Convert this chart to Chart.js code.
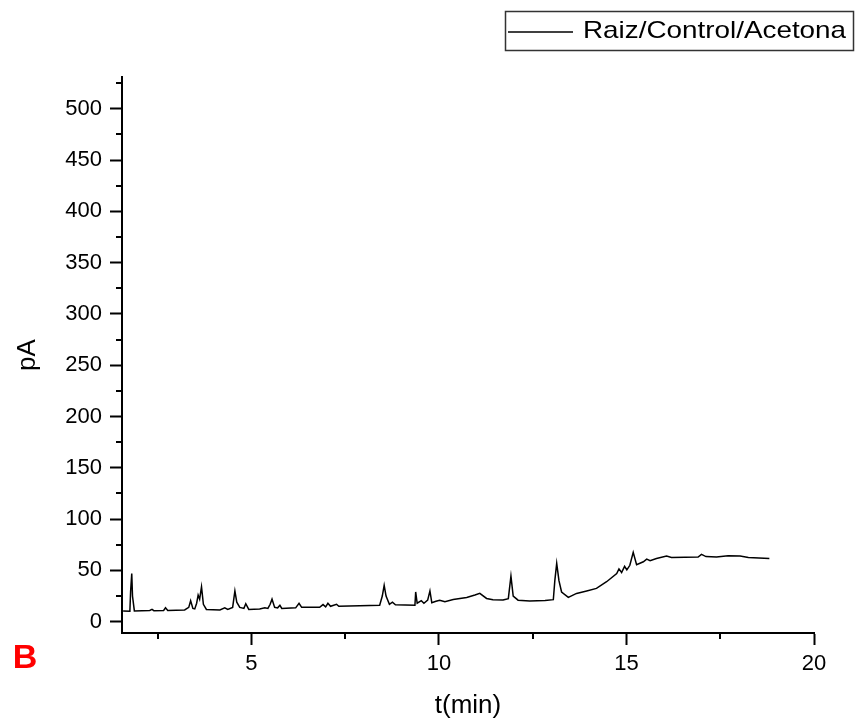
<!DOCTYPE html>
<html>
<head>
<meta charset="utf-8">
<script src="https://cdn.jsdelivr.net/npm/chart.js@4.4.1/dist/chart.umd.min.js"></script>
<style>
body { margin: 0; background: #fff; }
#wrap { width: 862px; height: 726px; }
</style>
</head>
<body>
<div id="wrap"><canvas id="gc-chart" width="862" height="726"></canvas></div>
<script>
// retention time (min) and detector signal (pA)
var times = [1.58, 1.76, 1.78, 1.81, 1.83, 1.88, 2.29, 2.35, 2.40, 2.66, 2.71, 2.77,
  3.22, 3.33, 3.38, 3.44, 3.49, 3.54, 3.58, 3.62, 3.67, 3.72, 3.80, 4.16, 4.29, 4.37,
  4.50, 4.56, 4.61, 4.69, 4.80, 4.85, 4.93, 5.22, 5.36, 5.44, 5.50, 5.55, 5.62, 5.70,
  5.76, 5.81, 6.18, 6.27, 6.34, 6.82, 6.91, 6.98, 7.04, 7.11, 7.27, 7.33, 7.89, 8.42,
  8.49, 8.54, 8.59, 8.68, 8.76, 8.84, 9.36, 9.38, 9.42, 9.53, 9.60, 9.70, 9.76, 9.81,
  9.92, 10.02, 10.16, 10.38, 10.74, 10.96, 11.09, 11.27, 11.44, 11.71, 11.85, 11.92,
  11.98, 12.11, 12.42, 12.83, 13.05, 13.09, 13.14, 13.20, 13.27, 13.45, 13.67, 13.94,
  14.20, 14.47, 14.74, 14.80, 14.87, 14.95, 15.01, 15.09, 15.18, 15.27, 15.45, 15.54,
  15.63, 15.80, 16.07, 16.20, 16.91, 17.00, 17.12, 17.40, 17.71, 18.03, 18.25, 18.81];
var signal = [10.4, 10.3, 30, 47, 25, 10.5, 11, 12, 10.8, 11, 13.6, 11,
  11.5, 14, 20.5, 13, 12.5, 18, 26, 22, 34, 17, 12, 11.5, 13.5, 12,
  14, 30, 19, 14, 13, 17.5, 12, 12.5, 13.5, 13, 17, 22, 14, 13.5,
  16, 13, 13.5, 18, 14, 14, 16.7, 14.5, 18, 15, 17, 15, 15.5, 16,
  25, 35.5, 25, 17, 19, 16.5, 16, 29, 18, 20.5, 18, 21, 30, 18.5,
  20, 21, 19.5, 21.6, 23.7, 26, 27.6, 22.7, 21.5, 21.1, 22.5, 44.5,
  25, 21, 20.2, 20.8, 21.5, 40, 56.9, 40, 29, 23.7, 27.6, 30,
  32.5, 39, 47, 51.5, 48, 54, 50.5, 55, 67.6, 55.5, 58.4, 61,
  59.5, 61.7, 64, 62.6, 63, 65.6, 63.5, 63, 64.3, 64, 62.6, 61.7];

var xMajor = [5, 10, 15, 20];
var xMinor = [2.5, 7.5, 12.5, 17.5];
var yMajor = [0, 50, 100, 150, 200, 250, 300, 350, 400, 450, 500];
var yMinor = [25, 75, 125, 175, 225, 275, 325, 375, 425, 475, 525];
var seriesLabel = "Raiz/Control/Acetona";
var panelLetter = "B";

var FONT = "'Liberation Sans', Arial, sans-serif";

var points = times.map(function (t, i) { return { x: t, y: signal[i] }; });

// minor ticks, boxed legend and the panel letter
var extras = {
  id: 'extras',
  afterDraw: function (chart) {
    var ctx = chart.ctx;
    var xs = chart.scales.x, ys = chart.scales.y;
    ctx.save();
    ctx.strokeStyle = '#000';
    ctx.lineWidth = 2;
    ctx.beginPath();
    xMinor.forEach(function (v) {
      var p = Math.round(xs.getPixelForValue(v));
      ctx.moveTo(p, xs.top);
      ctx.lineTo(p, xs.top + 6);
    });
    yMinor.forEach(function (v) {
      var p = Math.round(ys.getPixelForValue(v));
      ctx.moveTo(ys.right, p);
      ctx.lineTo(ys.right - 6, p);
    });
    ctx.stroke();

    // legend box
    ctx.lineWidth = 1.5;
    ctx.strokeStyle = '#333';
    ctx.strokeRect(505.5, 11.5, 348, 39);
    ctx.strokeStyle = '#000';
    ctx.lineWidth = 1.4;
    ctx.beginPath();
    ctx.moveTo(508, 32);
    ctx.lineTo(573, 32);
    ctx.stroke();
    ctx.fillStyle = '#000';
    ctx.font = '24px ' + FONT;
    ctx.textBaseline = 'middle';
    ctx.textAlign = 'left';
    ctx.translate(583, 31);
    ctx.scale(1.16, 1);
    ctx.fillText(seriesLabel, 0, 0);
    ctx.restore();

    ctx.save();
    ctx.fillStyle = '#ff0000';
    ctx.font = 'bold 34px ' + FONT;
    ctx.textAlign = 'center';
    ctx.textBaseline = 'middle';
    ctx.fillText(panelLetter, 25, 659);
    ctx.restore();
  }
};

var chart = new Chart(document.getElementById('gc-chart'), {
  type: 'line',
  data: {
    datasets: [{
      label: seriesLabel,
      data: points,
      borderColor: '#000',
      borderWidth: 1.5,
      pointRadius: 0,
      tension: 0,
      fill: false
    }]
  },
  options: {
    responsive: false,
    animation: false,
    layout: { padding: { left: 0, top: 77, right: 48, bottom: 0 } },
    plugins: {
      legend: { display: false },
      tooltip: { enabled: false }
    },
    scales: {
      x: {
        type: 'linear',
        min: 1.55,
        max: 20,
        afterBuildTicks: function (s) { s.ticks = xMajor.map(function (v) { return { value: v }; }); },
        afterFit: function (s) { s.height = 93; },
        grid: { drawOnChartArea: false, tickLength: 12, tickWidth: 2, tickColor: '#000' },
        border: { color: '#000', width: 2 },
        ticks: { color: '#000', font: { size: 22, family: FONT }, padding: 6, maxRotation: 0, autoSkip: false },
        title: { display: true, text: 't(min)', color: '#000', font: { size: 26, family: FONT }, padding: { top: 0, bottom: 5 } }
      },
      y: {
        min: -11,
        max: 531,
        afterBuildTicks: function (s) { s.ticks = yMajor.map(function (v) { return { value: v }; }); },
        afterFit: function (s) { s.width = 122; },
        grid: { drawOnChartArea: false, tickLength: 12, tickWidth: 2, tickColor: '#000' },
        border: { color: '#000', width: 2 },
        ticks: { color: '#000', font: { size: 22, family: FONT }, padding: 8, autoSkip: false },
        title: { display: true, text: 'pA', color: '#000', font: { size: 26, family: FONT }, padding: { top: 12, bottom: 0 } }
      }
    }
  },
  plugins: [extras]
});
</script>
</body>
</html>
